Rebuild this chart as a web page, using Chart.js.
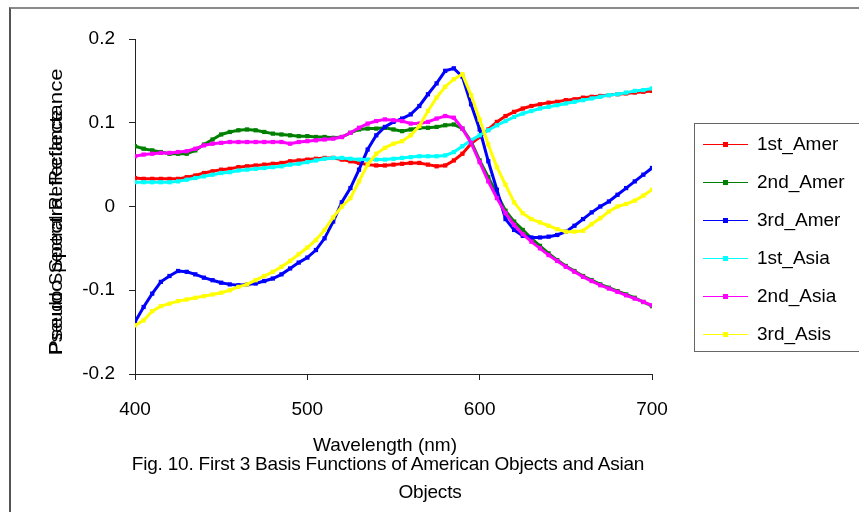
<!DOCTYPE html>
<html>
<head>
<meta charset="utf-8">
<script src="https://cdn.jsdelivr.net/npm/chart.js@4/dist/chart.umd.min.js"></script>
<style>
  html, body { margin: 0; padding: 0; background: #fff; }
  #wrap { position: relative; width: 859px; height: 512px; overflow: hidden; font-family: "Liberation Sans", Arial, sans-serif; color: #000; }
  #frame { position: absolute; left: 9px; top: 7px; width: 860px; height: 520px; border-top: 2px solid #8a8a8a; border-left: 2px solid #555; }
  #chart { position: absolute; left: 0; top: 0; }
  .ytitle { position: absolute; left: 55px; top: 355px; transform-origin: 0 0; white-space: nowrap; font-size: 19px; line-height: 1; }
  #legend { position: absolute; left: 694px; top: 123px; width: 170px; height: 227px; border: 1px solid #666; }
  .item { position: absolute; left: 8px; height: 20px; font-size: 19px; line-height: 20px; }
  .item .ln { position: absolute; left: 0; top: 10px; width: 45px; height: 1px; }
  .item .mk { position: absolute; left: 20px; top: 8px; width: 5px; height: 5px; }
  .item .tx { position: absolute; left: 54px; top: 0; white-space: nowrap; }
  .cap { position: absolute; white-space: nowrap; text-align: center; font-size: 19px; line-height: 1; }
</style>
</head>
<body>
<div id="wrap">
  <div id="frame"></div>
  <canvas id="chart" width="859" height="512"></canvas>
  <div class="ytitle" style="transform: rotate(-90deg) translateY(-50%)">Pseudo Spectral Reflectance</div>
  <div class="ytitle" style="transform: rotate(-90deg) translateY(-50%) scaleX(1.17)">Pseudo Spectral Reflectance</div>
  <div id="legend"></div>
  <div class="cap" style="left:385px; top:435px; transform:translateX(-50%)">Wavelength (nm)</div>
  <div class="cap" style="left:388px; top:454px; transform:translateX(-50%); letter-spacing:-0.2px">Fig. 10. First 3 Basis Functions of American Objects and Asian</div>
  <div class="cap" style="left:430px; top:482px; transform:translateX(-50%); letter-spacing:-0.2px">Objects</div>
</div>
<script>
// wavelengths (nm), 5 nm steps
const wavelengths = [400,405,410,415,420,425,430,435,440,445,450,455,460,465,470,475,480,485,490,495,
  500,505,510,515,520,525,530,535,540,545,550,555,560,565,570,575,580,585,590,595,
  600,605,610,615,620,625,630,635,640,645,650,655,660,665,670,675,680,685,690,695,700];

const seriesNames = ['1st_Amer', '2nd_Amer', '3rd_Amer', '1st_Asia', '2nd_Asia', '3rd_Asis'];
const seriesColors = ['#ff0000', '#008000', '#0000ff', '#00ffff', '#ff00ff', '#ffff00'];

const firstAmer = [0.034,0.033,0.033,0.033,0.033,0.033,0.035,0.037,0.040,0.042,0.044,0.045,0.047,0.048,0.049,0.050,0.051,0.052,0.054,0.055,
  0.056,0.057,0.058,0.058,0.056,0.054,0.052,0.050,0.049,0.049,0.050,0.051,0.052,0.052,0.050,0.048,0.049,0.055,0.063,0.075,
  0.083,0.092,0.101,0.108,0.113,0.117,0.120,0.122,0.124,0.125,0.127,0.128,0.130,0.131,0.132,0.133,0.134,0.135,0.136,0.137,0.138];

const secondAmer = [0.072,0.069,0.067,0.065,0.063,0.063,0.063,0.067,0.074,0.080,0.086,0.089,0.091,0.092,0.091,0.089,0.087,0.086,0.085,0.084,
  0.084,0.083,0.083,0.082,0.083,0.088,0.092,0.093,0.093,0.094,0.092,0.090,0.092,0.094,0.094,0.095,0.097,0.098,0.093,0.078,
  0.055,0.035,0.015,-0.005,-0.018,-0.028,-0.038,-0.047,-0.056,-0.064,-0.071,-0.077,-0.083,-0.088,-0.093,-0.097,-0.101,-0.105,-0.109,-0.114,-0.119];

const thirdAmer = [-0.138,-0.120,-0.104,-0.090,-0.083,-0.077,-0.078,-0.081,-0.085,-0.088,-0.091,-0.093,-0.094,-0.093,-0.092,-0.089,-0.086,-0.081,-0.074,-0.067,
  -0.061,-0.052,-0.038,-0.018,0.005,0.022,0.044,0.068,0.085,0.095,0.101,0.105,0.110,0.120,0.134,0.147,0.162,0.165,0.155,0.122,
  0.092,0.054,0.020,-0.015,-0.028,-0.035,-0.037,-0.037,-0.036,-0.034,-0.030,-0.023,-0.015,-0.007,0.000,0.006,0.014,0.022,0.030,0.038,0.046];

const firstAsia = [0.029,0.029,0.029,0.029,0.029,0.030,0.032,0.034,0.036,0.038,0.040,0.041,0.043,0.044,0.045,0.046,0.047,0.048,0.050,0.051,
  0.053,0.055,0.057,0.058,0.058,0.057,0.056,0.056,0.056,0.056,0.057,0.058,0.059,0.060,0.060,0.060,0.061,0.065,0.072,0.079,
  0.085,0.091,0.097,0.102,0.107,0.111,0.114,0.117,0.119,0.121,0.123,0.125,0.127,0.129,0.131,0.133,0.134,0.136,0.138,0.139,0.141];

const secondAsia = [0.060,0.062,0.063,0.064,0.064,0.065,0.066,0.069,0.073,0.075,0.076,0.077,0.077,0.077,0.077,0.077,0.077,0.077,0.075,0.077,
  0.078,0.079,0.080,0.081,0.083,0.088,0.094,0.099,0.102,0.104,0.103,0.102,0.099,0.099,0.101,0.105,0.108,0.106,0.093,0.076,
  0.053,0.030,0.010,-0.008,-0.022,-0.033,-0.042,-0.050,-0.058,-0.065,-0.072,-0.078,-0.084,-0.089,-0.094,-0.098,-0.102,-0.106,-0.110,-0.114,-0.118];

const thirdAsia = [-0.142,-0.136,-0.125,-0.119,-0.116,-0.113,-0.111,-0.109,-0.107,-0.105,-0.103,-0.100,-0.096,-0.093,-0.088,-0.083,-0.078,-0.072,-0.065,-0.057,
  -0.049,-0.040,-0.028,-0.013,0.000,0.010,0.030,0.050,0.063,0.070,0.075,0.078,0.085,0.096,0.114,0.130,0.143,0.152,0.158,0.133,
  0.104,0.074,0.047,0.026,0.005,-0.008,-0.015,-0.019,-0.023,-0.027,-0.030,-0.030,-0.029,-0.021,-0.014,-0.006,0.000,0.003,0.007,0.013,0.020];

const seriesValues = [firstAmer, secondAmer, thirdAmer, firstAsia, secondAsia, thirdAsia];

const yTicks = [-0.2, -0.1, 0, 0.1, 0.2];
const xTicks = [400, 500, 600, 700];

const axisColor = '#222';
const tickFont = { family: '"Liberation Sans", Arial, sans-serif', size: 19 };

const datasets = seriesValues.map((vals, i) => ({
    label: seriesNames[i],
    data: vals.map((v, j) => ({ x: wavelengths[j], y: v })),
    borderColor: seriesColors[i],
    backgroundColor: seriesColors[i],
    borderWidth: 3,
    pointStyle: 'rect',
    pointRadius: 3,
    pointBorderWidth: 0,
    tension: 0,
    fill: false,
    order: seriesValues.length - i
}));

new Chart(document.getElementById('chart').getContext('2d'), {
    type: 'line',
    data: { datasets: datasets },
    options: {
        responsive: false,
        animation: false,
        events: [],
        layout: { padding: { top: 39, right: 207, left: 0, bottom: 0 } },
        plugins: { legend: { display: false }, tooltip: { enabled: false } },
        scales: {
            x: {
                type: 'linear',
                min: 400, max: 700,
                afterFit: (s) => { s.height = 138; },
                afterBuildTicks: (s) => { s.ticks = xTicks.map(v => ({ value: v })); },
                grid: { drawOnChartArea: false, drawTicks: true, tickLength: 6, color: axisColor },
                border: { display: true, color: axisColor, width: 1 },
                ticks: { color: '#000', font: tickFont, padding: 18, maxRotation: 0, autoSkip: false }
            },
            y: {
                min: -0.2, max: 0.2,
                afterFit: (s) => { s.width = 135; },
                afterBuildTicks: (s) => { s.ticks = yTicks.map(v => ({ value: v })); },
                grid: { drawOnChartArea: false, drawTicks: true, tickLength: 6, color: axisColor },
                border: { display: true, color: axisColor, width: 1 },
                ticks: { color: '#000', font: tickFont, padding: 14, autoSkip: false,
                    callback: (v) => String(Math.round(v * 10) / 10) }
            }
        }
    }
});

// legend box
const legend = document.getElementById('legend');
seriesNames.forEach((name, i) => {
    const it = document.createElement('div');
    it.className = 'item';
    it.style.top = (10 + i * 38) + 'px';
    it.innerHTML = '<span class="ln" style="background:' + seriesColors[i] + '"></span>' +
        '<span class="mk" style="background:' + seriesColors[i] + '"></span>' +
        '<span class="tx">' + name + '</span>';
    legend.appendChild(it);
});
</script>
</body>
</html>
